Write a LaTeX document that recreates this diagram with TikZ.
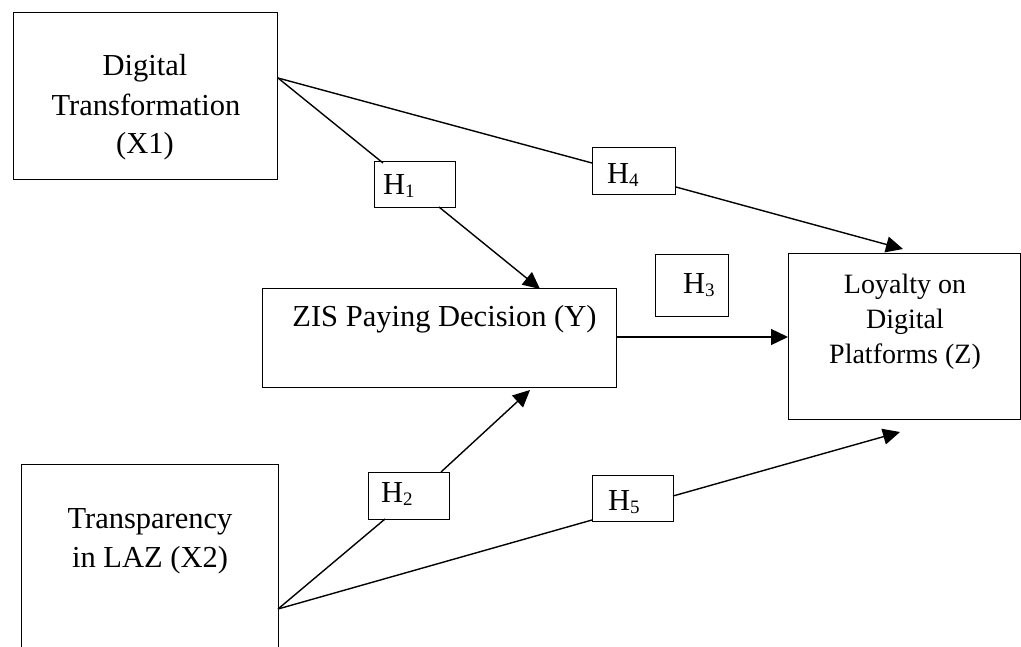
\documentclass[tikz,border=0pt]{standalone}
\usepackage{fontspec}
\setmainfont{Liberation Serif}
\usetikzlibrary{arrows.meta}
\newcommand{\hsub}[1]{H\raisebox{-3pt}{\fontsize{19}{19}\selectfont #1}}
\begin{document}
\begin{tikzpicture}[x=1pt,y=-1pt,
  box/.style={draw,line width=1pt,inner sep=0pt,rectangle},
  lbl/.style={anchor=base,inner sep=0pt,font=\fontsize{30.5}{36}\selectfont},
  zl/.style={anchor=base,inner sep=0pt,font=\fontsize{28}{33}\selectfont},
  hl/.style={anchor=base west,inner sep=0pt,font=\fontsize{30.5}{36}\selectfont},
  conn/.style={line width=1.4pt},
  arr/.style={conn,-{Triangle[length=17pt,width=16pt]}}]
\useasboundingbox (0,0) rectangle (1021,646);
\clip (0,0) rectangle (1021,646);
\fill[white] (0,0) rectangle (1021,646);

% boxes
\node[box,minimum width=264pt,minimum height=167pt] (x1) at (145,95.5) {};
\node[box,minimum width=257pt,minimum height=196pt] (x2) at (149.5,562) {};
\node[box,minimum width=354pt,minimum height=99pt] (y) at (439,337.5) {};
\node[box,minimum width=232pt,minimum height=166pt] (z) at (904,336) {};
\node[box,minimum width=81pt,minimum height=46pt] (h1) at (414.5,184) {};
\node[box,minimum width=83pt,minimum height=47pt] (h4) at (633.5,170.5) {};
\node[box,minimum width=73pt,minimum height=62pt] (h3) at (691.5,285) {};
\node[box,minimum width=81pt,minimum height=47pt] (h2) at (408.5,495.5) {};
\node[box,minimum width=81pt,minimum height=46pt] (h5) at (632.5,498) {};

% texts
\node[lbl] (x1a) at (145,75) {Digital};
\node[lbl] (x1b) at (146,115) {Transformation};
\node[lbl] (x1c) at (145,153) {(X1)};
\node[lbl] (x2a) at (150,528) {Transparency};
\node[lbl] (x2b) at (150,567) {in LAZ (X2)};
\node[lbl] (ya) at (444.5,326) {ZIS Paying Decision (Y)};
\node[zl] (za) at (905,293) {Loyalty on};
\node[zl] (zb) at (905,328) {Digital};
\node[zl] (zc) at (905,363) {Platforms (Z)};
\node[hl] (h1t) at (383,194) {\hsub{1}};
\node[hl] (h4t) at (607,183) {\hsub{4}};
\node[hl] (h3t) at (683,293) {\hsub{3}};
\node[hl] (h2t) at (381,502) {\hsub{2}};
\node[hl] (h5t) at (608,510) {\hsub{5}};

% connector end points
\coordinate (x1o) at (278,78);
\coordinate (x2o) at (278,609);
\coordinate (h1in) at (383,163);
\coordinate (h1out) at (439,207);
\coordinate (ytop) at (540,289);
\coordinate (h4in) at (592,163);
\coordinate (h4out) at (676,187);
\coordinate (ztop) at (903,249);
\coordinate (yout) at (616,337);
\coordinate (zin) at (788,337);
\coordinate (h2in) at (385,519);
\coordinate (h2out) at (441,472);
\coordinate (ybot) at (530,390);
\coordinate (h5in) at (592,520);
\coordinate (h5out) at (673,496);
\coordinate (zbot) at (900,432);

% connectors
\draw[conn] (x1o) -- (h1in);
\draw[arr] (h1out) -- (ytop);
\draw[conn] (x1o) -- (h4in);
\draw[arr] (h4out) -- (ztop);
\draw[arr] (yout) -- (zin);
\draw[conn] (x2o) -- (h2in);
\draw[arr] (h2out) -- (ybot);
\draw[conn] (x2o) -- (h5in);
\draw[arr] (h5out) -- (zbot);
\end{tikzpicture}
\end{document}
